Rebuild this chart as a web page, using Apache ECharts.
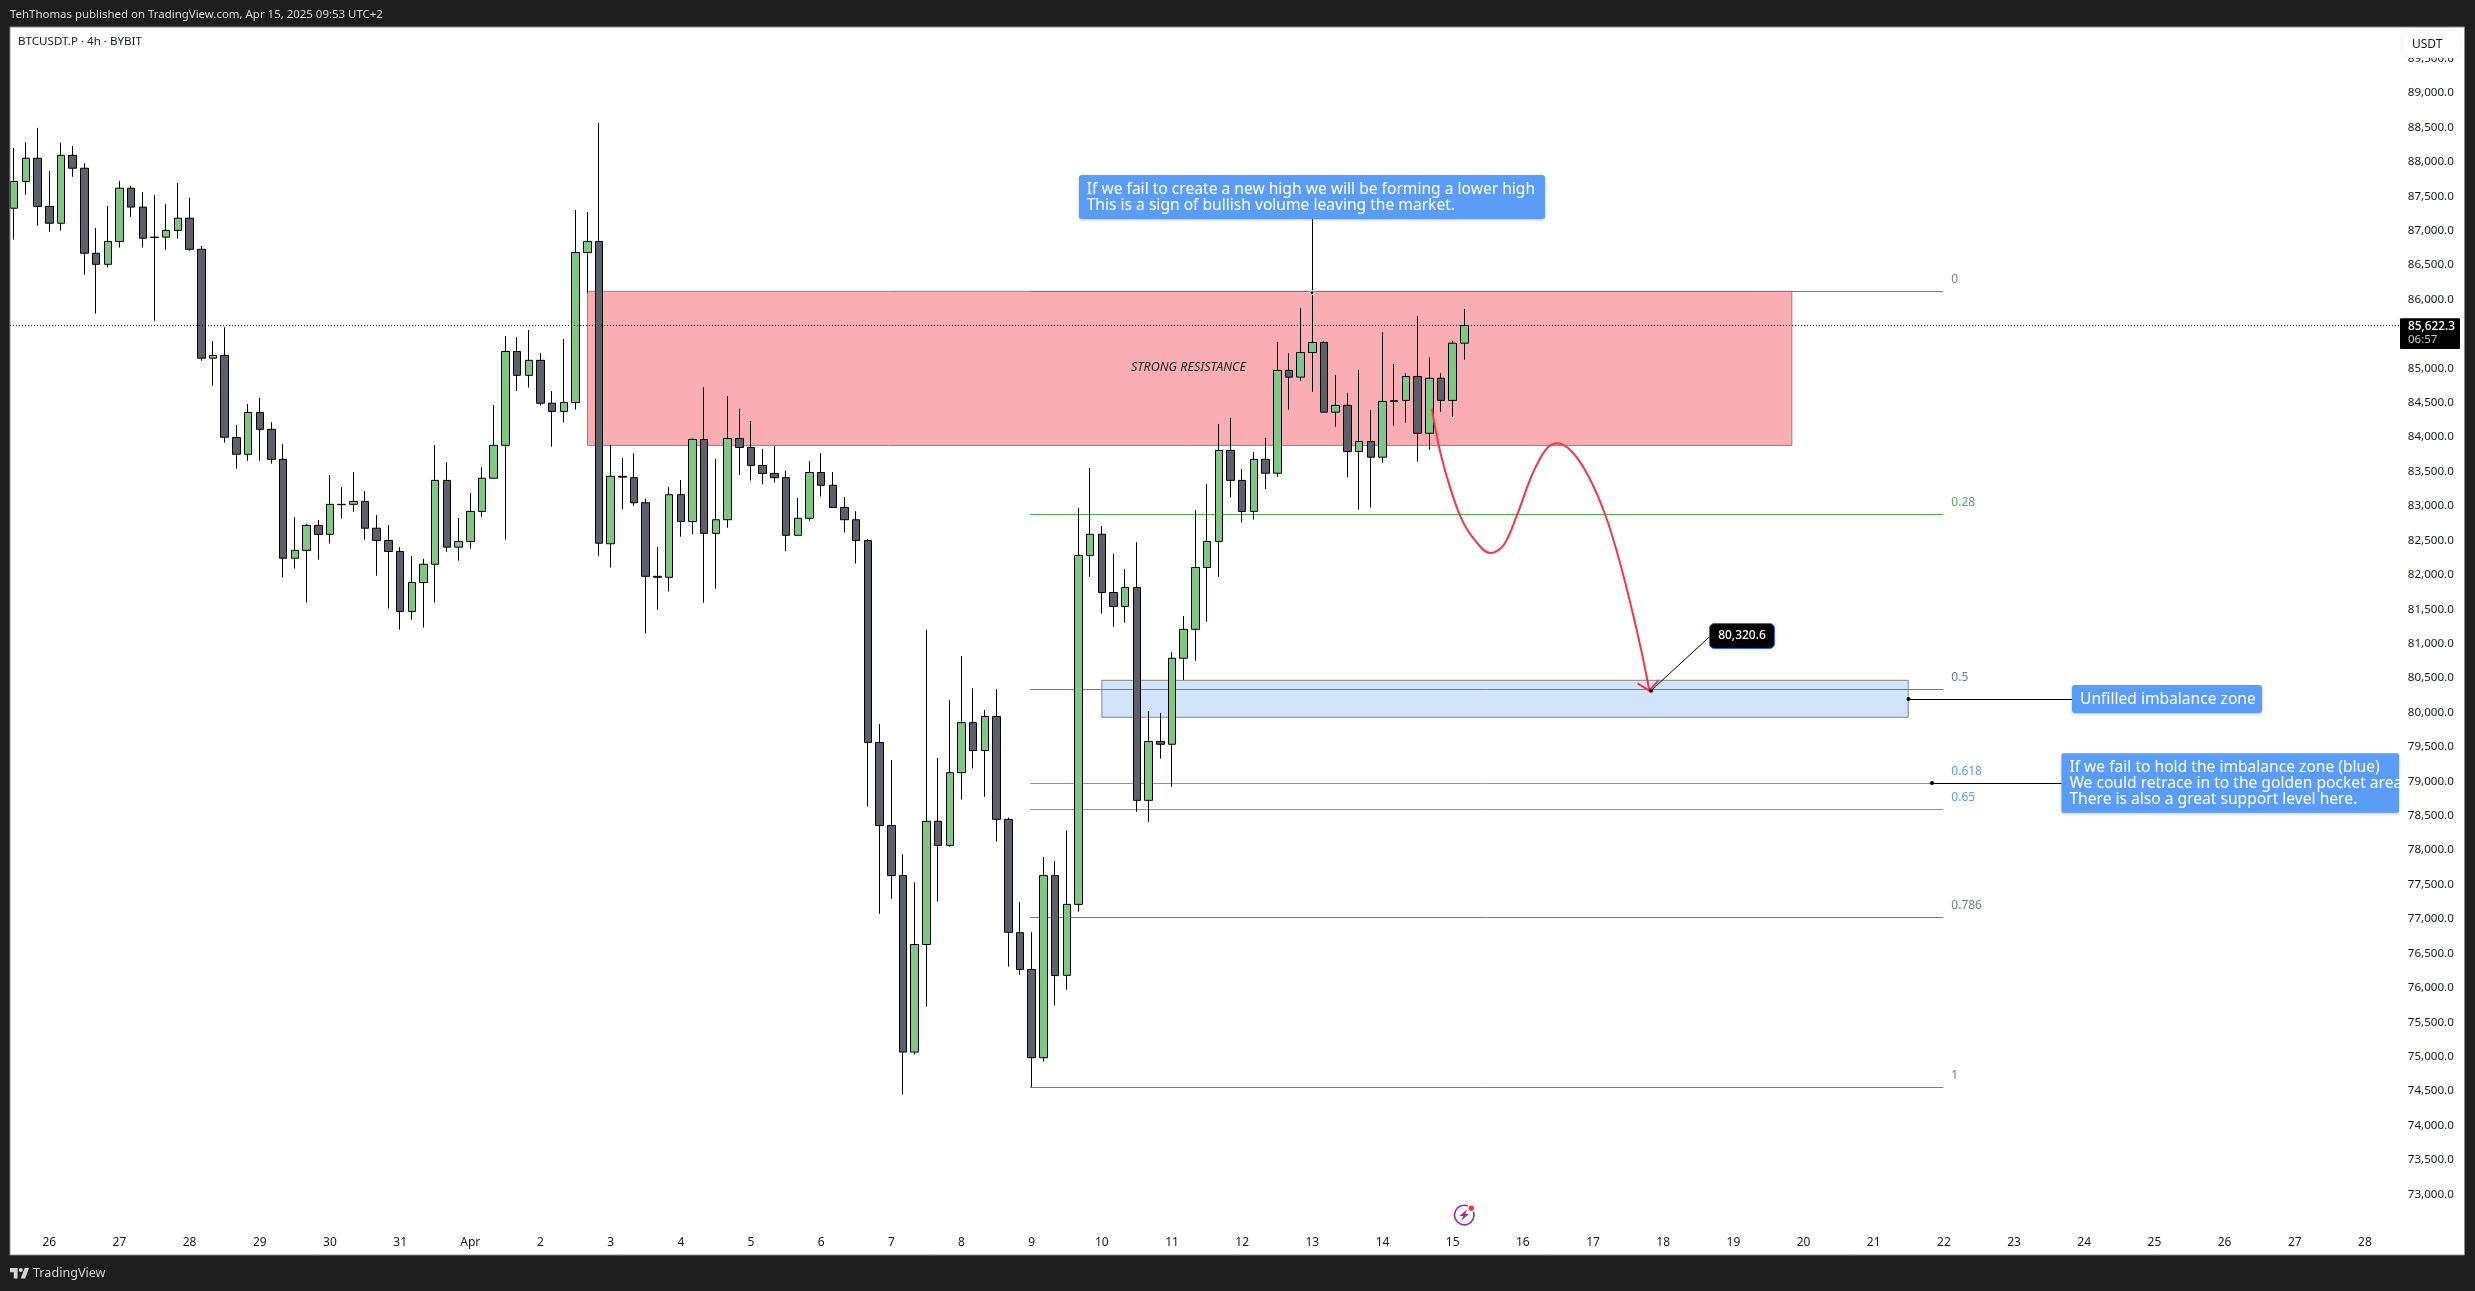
<!DOCTYPE html>
<html><head><meta charset="utf-8"><style>html,body{margin:0;padding:0;background:#fff}#c{width:2475px;height:1291px}</style>
<script src="https://cdn.jsdelivr.net/npm/echarts@6/dist/echarts.min.js"></script></head>
<body><div id="c"></div>
<script>
const opens=[87326,87715,88052,87352,87108,88094,87907,86672,86511,86843,87617,87342,86906,86906,87004,87181,86729,85147,85188,83995,83751,84358,84114,83678,82241,82355,82718,82588,83024,83024,83066,82677,82500,82339,81468,81888,82153,83372,82402,82485,82921,83403,83881,85245,84898,85116,84493,84374,84503,86683,86843,82451,83431,83411,83047,81978,81964,83164,82773,83966,82602,82800,83980,83850,83589,83473,83411,82574,82821,83486,83301,82979,82800,82499,79564,78357,77630,75066,76629,78419,78069,79125,79852,79447,79941,78446,76801,76266,74984,77630,76181,77212,82282,82589,81743,81540,81815,78723,79579,79538,80788,81208,82106,82485,83808,83372,82921,83678,83476,84970,84872,85230,85375,84363,84462,83792,83938,83709,84529,84534,84882,84057,84856,84534,85365];
const closes=[87715,88052,87352,87108,88094,87907,86672,86511,86843,87617,87342,86890,86901,87004,87181,86729,85147,85188,83999,83751,84358,84114,83678,82241,82355,82718,82588,83024,83019,83066,82677,82500,82339,81468,81888,82153,83372,82402,82485,82921,83403,83881,85245,84898,85116,84493,84374,84503,86683,86843,82459,83431,83418,83047,81978,81964,83164,82773,83966,82602,82800,83980,83850,83589,83473,83411,82574,82821,83486,83301,82979,82800,82499,79564,78357,77630,75066,76629,78419,78069,79125,79852,79447,79941,78446,76807,76266,74984,77630,76177,77212,82282,82589,81743,81540,81815,78723,79579,79538,80788,81208,82106,82485,83808,83372,82921,83678,83476,84970,84872,85230,85375,84363,84462,83792,83938,83709,84519,84519,84882,84057,84856,84534,85365,85622.3];
const lows=[86869,87523,87072,86984,86999,87783,86361,85795,86465,86755,87201,86755,85692,86724,86885,86709,85110,84747,83922,83543,83657,83657,83616,81961,82090,81597,82220,82454,82817,82915,82511,81987,81509,81203,81348,81234,81597,82334,82205,82381,82843,83398,82511,84669,84721,84457,83860,84213,84399,86096,82277,82108,82951,83006,81148,81491,81758,82554,82588,81594,81799,82684,83452,83370,83315,83342,82341,82574,82787,83137,82979,82615,82163,78632,77075,77294,74449,75032,75724,77253,78049,78734,79187,78775,78124,76307,76190,74558,74929,75745,75972,77106,81971,81437,81245,81307,78557,78411,79330,78920,80471,80752,81317,81971,83123,82760,82801,83247,83424,84399,84820,84659,84363,84150,83414,82947,82978,83631,84166,84208,83642,83818,84368,84296,85126];
const highs=[88203,88286,88494,87866,88276,88229,87980,87041,87357,87720,87653,87560,87518,87388,87694,87477,86776,85396,85598,84176,84482,84571,84218,83901,82837,82739,82796,83450,83273,83491,83216,82869,82723,82402,82272,82231,83886,83637,82827,83190,83564,84467,85468,85453,85557,85224,84669,85427,87300,87269,88566,83884,83699,83767,83109,82403,83274,83377,83987,84727,83685,84597,84412,84234,83829,83870,83514,83116,83651,83767,83493,83130,82924,82519,79831,79310,77939,77534,81203,79338,80181,80819,80352,80037,80339,78474,77246,76807,77898,77843,78287,82973,83554,82708,82303,82085,82474,80020,79994,80876,81400,82941,83320,84192,84280,83538,83782,83990,85380,85219,85878,86117,85396,84903,84643,84975,84394,85525,85064,84929,85759,85162,84929,85396,85863];
const dayLabels=['26','27','28','29','30','31','Apr','2','3','4','5','6','7','8','9','10','11','12','13','14','15','16','17','18','19','20','21','22','23','24','25','26','27','28'];
const lastPrice=85622.3;
const fibLevels=[0,0.28,0.5,0.618,0.65,0.786,1];
const fibPrices=[86119,82882,80338,78974,78604,77032,74558];
const fibColors=['#787b86','#4caf50','#787b86','#5b9cf6','#5b9cf6','#787b86','#787b86'];
const fibSpan=[86.87,164.95];
const resistanceZone=[49.02,86119,152,83880];
const imbalanceZone=[93,80467,161.95,79930];
const pathIdx=[121.24,121.38,121.96,122.67,123.67,124.66,126.23,127.36,128.5,129.78,130.93,131.92,133.2,134.63,136.05,137.2,138.33,139.18,139.82];
const pathPrice=[84415,84249,83765,83329,82844,82554,82317,82433,82869,83450,83813,83910,83788,83425,82869,82240,81489,80859,80316];
const arrowIdx=[138.81,139.82,140.6];
const arrowPrice=[80424,80316,80471];

const N=205, cats=[];
for(let i=0;i<N;i++){const k=(i-3)/6;cats.push(Number.isInteger(k)&&k>=0&&k<dayLabels.length?dayLabels[k]:'');}
const FONT='"Noto Sans"', DARK='#1e1e1e', INK='#131722', BLUE='#5b9cf6';

function zone(color){return {type:'custom',xAxisIndex:1,yAxisIndex:0,silent:true,clip:true,z:1,
  renderItem:(p,api)=>{const a=api.coord([api.value(0),api.value(1)]),b=api.coord([api.value(2),api.value(3)]);
    return {type:'rect',shape:{x:a[0],y:a[1],width:b[0]-a[0],height:b[1]-a[1]},style:{fill:color,stroke:'#868686',lineWidth:1}};},
  encode:{x:[0,2],y:[1,3]}};}

const series=[
 Object.assign(zone('#faaeb4'),{data:[resistanceZone]}),
 Object.assign(zone('#d2e3fc'),{data:[imbalanceZone]}),
 {type:'custom',xAxisIndex:1,yAxisIndex:0,silent:true,z:2,encode:{x:0,y:1},
  data:fibPrices.map((p,i)=>[fibSpan[0],p,i]),
  renderItem:(pr,api)=>{const i=api.value(2),a=api.coord([fibSpan[0],api.value(1)]),b=api.coord([fibSpan[1],api.value(1)]);
   const y=Math.round(a[1])+.5;
   return {type:'group',children:[
    {type:'line',shape:{x1:a[0],y1:y,x2:b[0],y2:y},style:{stroke:fibColors[i],lineWidth:1}},
    {type:'text',style:{x:b[0]+8,y:y-12,text:String(fibLevels[i]),fill:fibColors[i],fontFamily:FONT,fontSize:12,align:'left',verticalAlign:'middle'}}]};}},
 {type:'candlestick',xAxisIndex:0,yAxisIndex:0,silent:true,z:3,barWidth:8,
  data:opens.map((o,i)=>[o,closes[i],lows[i],highs[i]]),
  itemStyle:{color:'#81c784',color0:'#5d606b',borderColor:'#000',borderColor0:'#000',borderWidth:1}},
 {type:'line',xAxisIndex:1,yAxisIndex:0,silent:true,z:4,symbol:'none',smooth:0.35,
  data:pathIdx.map((x,i)=>[x,pathPrice[i]]),lineStyle:{color:'#f23645',width:2}},
 {type:'line',xAxisIndex:1,yAxisIndex:0,silent:true,z:4,symbol:'none',
  data:arrowIdx.map((x,i)=>[x,arrowPrice[i]]),lineStyle:{color:'#f23645',width:2}},
 {type:'line',xAxisIndex:1,yAxisIndex:0,silent:true,z:5,symbol:'none',
  data:[[-0.3589,lastPrice],[204.5,lastPrice]],lineStyle:{color:'#000',width:1,type:[1,2]}}
];

function txt(x,y,text,o){return {type:'text',x,y,z:120,silent:true,style:Object.assign({text,fill:'#fff',fontFamily:FONT,fontSize:15.6,align:'left',verticalAlign:'middle'},o||{})};}
function box(x,y,w,h,fill,r,extra){return {type:'rect',z:110,silent:true,shape:{x,y,width:w,height:h,r:r||0},style:Object.assign({fill},extra||{})};}
function seg(x1,y1,x2,y2,c){return {type:'line',z:108,silent:true,shape:{x1,y1,x2,y2},style:{stroke:c||'#000',lineWidth:1}};}
function dot(x,y,r){return {type:'circle',z:109,silent:true,shape:{cx:x,cy:y,r:r||2},style:{fill:'#000'}};}
function poly(points,fill){return {type:'polygon',z:115,silent:true,shape:{points},style:{fill}};}
const shadow={shadowBlur:3,shadowColor:'rgba(0,0,0,.25)',shadowOffsetY:1};

const graphic=[
 box(0,0,2475,27,DARK),box(0,1255,2475,36,DARK),box(0,0,10,1291,DARK),box(2465,0,10,1291,DARK),
 {type:'rect',z:111,silent:true,shape:{x:10,y:27,width:2454.5,height:1228},style:{fill:'none',stroke:'#8c8c8c',lineWidth:1}},
 txt(10,14.5,'TehThomas published on TradingView.com, Apr 15, 2025 09:53 UTC+2',{fill:'#dadada',fontSize:11.45}),
 txt(18,42,'BTCUSDT.P · 4h · BYBIT',{fill:INK,fontSize:11.6}),
 txt(33,1273,'TradingView',{fill:'#d6d6d6',fontSize:12.6}),
 poly([[17.6,1268],[10,1268],[10,1272.2],[13.8,1272.2],[13.8,1278.5],[17.6,1278.5]],'#d6d6d6'),
 poly([[25.2,1278.5],[20.8,1278.5],[24.6,1268],[29,1268]],'#d6d6d6'),
 {type:'circle',z:115,silent:true,shape:{cx:20.8,cy:1270.1,r:2},style:{fill:'#d6d6d6'}},
 // currency badge
 box(2402.5,30.5,58.5,27,'#fff',6,{stroke:'#f0f3fa',lineWidth:1}),
 txt(2412,44.5,'USDT',{fill:INK,fontSize:12}),
 // last price tag
 box(2400,318.3,60,30.7,'#000',1),
 txt(2408,327,'85,622.3',{fontSize:11.8,fontWeight:'500'}),
 txt(2408,340,'06:57',{fontSize:11.5,fill:'#d0d0d0'}),
 // zone caption
 txt(1131,367.5,'STRONG RESISTANCE',{fill:'#222',fontSize:12.5,fontStyle:'italic'}),
 // callout top
 seg(1312.5,219,1312.5,292.5),
 {type:'circle',z:109,silent:true,shape:{cx:1312,cy:292.7,r:2},style:{fill:'#000',stroke:'#fff',lineWidth:1}},
 box(1079,175,466,44,BLUE,3,shadow),
 txt(1086.7,189.8,'If we fail to create a new high we will be forming a lower high'),
 txt(1086.7,206,'This is a sign of bullish volume leaving the market.'),
 // callout imbalance
 seg(1908.5,699.5,2072,699.5),dot(1908.5,699),
 box(2072,685,190,28,BLUE,3,shadow),
 txt(2080,699.5,'Unfilled imbalance zone'),
 // callout golden pocket
 seg(1932,783.5,2061.5,783.5),dot(1932,783),
 box(2061.5,753.3,337.5,59.4,BLUE,2,shadow),
 txt(2069.4,768,'If we fail to hold the imbalance zone (blue)'),
 txt(2069.4,784,'We could retrace in to the golden pocket area'),
 txt(2069.4,800,'There is also a great support level here.'),
 // price label callout
 seg(1651,690.7,1709.5,636.7),dot(1651,690.7),
 box(1709.5,623.5,65,25,'#000',5,{stroke:'#2962ff',lineWidth:1}),
 txt(1742,636,'80,320.6',{fontSize:12,align:'center',fontWeight:'500'}),
 // alert icon
 {type:'arc',z:112,silent:true,shape:{cx:1464.3,cy:1215,r:9.8,startAngle:-0.35,endAngle:-1.2,clockwise:true},style:{stroke:'#9c27b0',lineWidth:1.6,fill:'none'}},
 {type:'polygon',z:112,silent:true,shape:{points:[[1467,1209.5],[1459.5,1216],[1463.2,1216],[1461.5,1220.5],[1469,1214],[1465.3,1214]]},style:{fill:'#9c27b0'}},
 {type:'circle',z:113,silent:true,shape:{cx:1471.3,cy:1208.3,r:2.7},style:{fill:'#f23645'}}
];

const chart=echarts.init(document.getElementById('c'),null,{renderer:'canvas'});
chart.setOption({
 animation:false,backgroundColor:'#fff',tooltip:{show:false},
 grid:{left:8.35,top:24.17,width:2397.5,height:1238.94,containLabel:false},
 xAxis:[
  {type:'category',data:cats,boundaryGap:true,axisLine:{show:false},axisTick:{show:false},splitLine:{show:false},
   axisLabel:{inside:true,margin:15,interval:(i,v)=>v!=='',color:INK,fontFamily:FONT,fontSize:12,hideOverlap:false}},
  {type:'value',min:-0.5,max:204.5,show:false,splitLine:{show:false}}
 ],
 yAxis:[{type:'value',position:'right',min:72000,max:90000,interval:500,scale:false,
   axisLine:{show:false},axisTick:{show:false},splitLine:{show:false},
   axisLabel:{margin:2,color:INK,fontFamily:FONT,fontSize:11.6,showMinLabel:true,showMaxLabel:true,
    formatter:v=>(v<73000||v>=90000)?'':v.toLocaleString('en-US',{minimumFractionDigits:1,maximumFractionDigits:1})}}],
 series,graphic
});
</script></body></html>
